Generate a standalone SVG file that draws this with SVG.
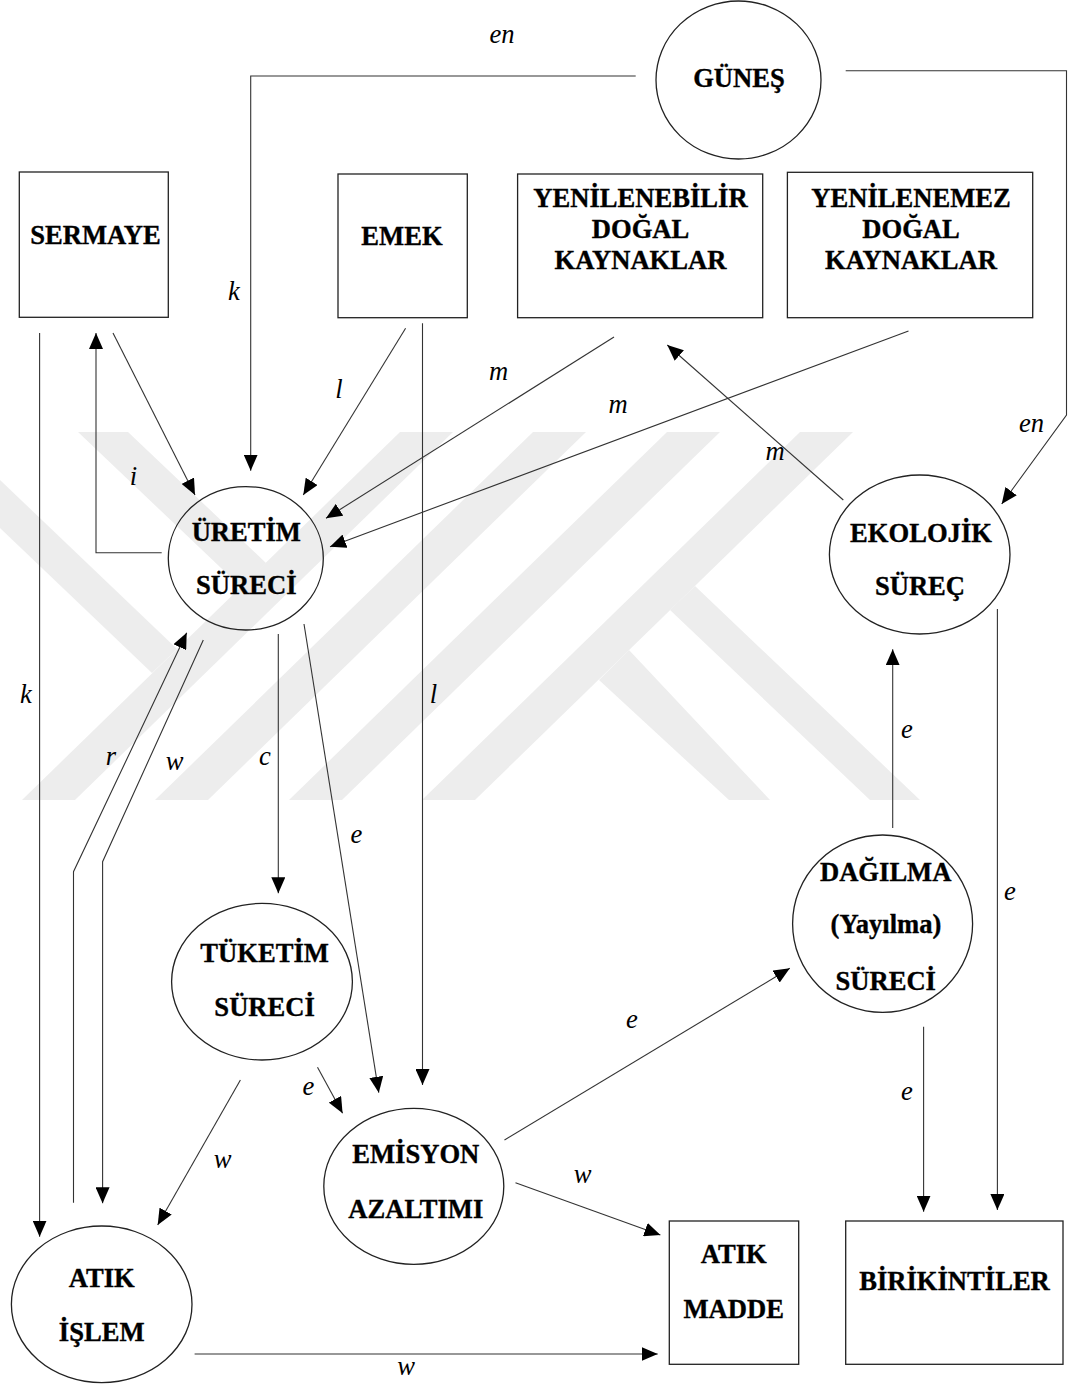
<svg xmlns="http://www.w3.org/2000/svg" width="1068" height="1385" viewBox="0 0 1068 1385">
<defs>
<style>
.bg{fill:#ffffff}
.wm{fill:#ededed}
.shape{fill:none;stroke:#222;stroke-width:1.3}
.ln{fill:none;stroke:#333;stroke-width:1.1}
.arr{marker-end:url(#ah)}
.nt{font-weight:bold;font-size:26.6px;text-anchor:middle;fill:#000;stroke:#000;stroke-width:0.35}
.lb{font-style:italic;font-size:26.6px;text-anchor:middle;fill:#000}
</style>
<marker id="ah" viewBox="0 0 16 14" refX="16" refY="7" markerWidth="16" markerHeight="14" markerUnits="userSpaceOnUse" orient="auto">
<path d="M0,0 L16,7 L0,14 Z" fill="#000"/>
</marker>
</defs>
<rect class="bg" x="0" y="0" width="1068" height="1385"/>
<g id="watermark">
<polygon class="wm" points="400,432 453,432 75,800 22,800"/>
<polygon class="wm" points="533,432 586,432 208,800 155,800"/>
<polygon class="wm" points="667,432 720,432 342,800 289,800"/>
<polygon class="wm" points="800,432 853,432 475,800 422,800"/>
<polygon class="wm" points="78,432 128,432 266,563 241,587"/>
<polygon class="wm" points="0,480 177,649 152,673 0,528"/>
<polygon class="wm" points="695,586 920,800 870,800 670,610"/>
<polygon class="wm" points="629,650 770,800 729,800 599,680"/>
</g>
<g id="connectors">
<polyline class="ln arr" points="635.7,76 250.7,76 250.7,470.7"/>
<polyline class="ln arr" points="845.7,70.7 1066.5,70.7 1066.5,415 1001.7,504"/>
<line class="ln arr" x1="113" y1="333" x2="195" y2="495"/>
<line class="ln arr" x1="405.6" y1="328.3" x2="303.3" y2="495"/>
<line class="ln arr" x1="614" y1="337" x2="326" y2="518.3"/>
<line class="ln arr" x1="908.5" y1="331" x2="330" y2="546.7"/>
<polyline class="ln arr" points="161.7,552.7 96,552.7 96,333"/>
<line class="ln arr" x1="39.6" y1="333" x2="39.6" y2="1236.7"/>
<line class="ln arr" x1="422.5" y1="323.3" x2="422.5" y2="1085"/>
<polyline class="ln arr" points="73.5,1202.7 73.5,871.7 186.7,632.7"/>
<polyline class="ln arr" points="203.3,640 102.6,861.7 102.6,1203.3"/>
<line class="ln arr" x1="278.3" y1="634" x2="278.3" y2="893.3"/>
<line class="ln arr" x1="304" y1="624" x2="378.8" y2="1092.7"/>
<line class="ln arr" x1="843.3" y1="500" x2="667.3" y2="345"/>
<line class="ln arr" x1="892.7" y1="828" x2="892.7" y2="649.3"/>
<line class="ln arr" x1="997.4" y1="609" x2="997.4" y2="1210"/>
<line class="ln arr" x1="923.6" y1="1026.7" x2="923.6" y2="1211.7"/>
<line class="ln arr" x1="317.5" y1="1067.3" x2="342.6" y2="1113.3"/>
<line class="ln arr" x1="240.4" y1="1080" x2="157.7" y2="1225"/>
<line class="ln arr" x1="504.5" y1="1140" x2="789.8" y2="968.3"/>
<line class="ln arr" x1="515.5" y1="1182.7" x2="660.4" y2="1235"/>
<line class="ln arr" x1="194.6" y1="1354" x2="657.7" y2="1354"/>
</g>
<g font-family="'Liberation Serif', Tinos, 'Times New Roman', Times, 'DejaVu Serif', serif">
<g id="edge-labels">
<text class="lb" x="502" y="43">en</text>
<text class="lb" x="234" y="300">k</text>
<text class="lb" x="339" y="398">l</text>
<text class="lb" x="498.5" y="380">m</text>
<text class="lb" x="618" y="413">m</text>
<text class="lb" x="775" y="460">m</text>
<text class="lb" x="1031.5" y="432">en</text>
<text class="lb" x="133.5" y="485">i</text>
<text class="lb" x="26" y="703">k</text>
<text class="lb" x="433.5" y="703">l</text>
<text class="lb" x="111" y="765">r</text>
<text class="lb" x="174.5" y="770">w</text>
<text class="lb" x="265" y="765">c</text>
<text class="lb" x="356.5" y="843">e</text>
<text class="lb" x="907" y="738">e</text>
<text class="lb" x="1010" y="900">e</text>
<text class="lb" x="632" y="1028">e</text>
<text class="lb" x="308.5" y="1095">e</text>
<text class="lb" x="222.5" y="1168">w</text>
<text class="lb" x="582.5" y="1183">w</text>
<text class="lb" x="907" y="1100">e</text>
<text class="lb" x="406" y="1375">w</text>
</g>
<g id="gunes">
<ellipse class="shape" cx="738.5" cy="80" rx="82.5" ry="79"/>
<text class="nt" x="739" y="87.3">GÜNEŞ</text>
</g>
<g id="sermaye">
<rect class="shape" x="19.3" y="172" width="149" height="145.3"/>
<text class="nt" x="95.5" y="244.3">SERMAYE</text>
</g>
<g id="emek">
<rect class="shape" x="338" y="174" width="129.3" height="143.7"/>
<text class="nt" x="402" y="245">EMEK</text>
</g>
<g id="yenilenebilir">
<rect class="shape" x="517.6" y="174" width="245.1" height="143.7"/>
<text class="nt" x="640.5" y="207.3">YENİLENEBİLİR</text>
<text class="nt" x="640.5" y="238.3">DOĞAL</text>
<text class="nt" x="640.5" y="269.3">KAYNAKLAR</text>
</g>
<g id="yenilenemez">
<rect class="shape" x="787.4" y="172.3" width="245.3" height="145.4"/>
<text class="nt" x="911" y="207.3">YENİLENEMEZ</text>
<text class="nt" x="911" y="238.3">DOĞAL</text>
<text class="nt" x="911" y="269.3">KAYNAKLAR</text>
</g>
<g id="uretim">
<ellipse class="shape" cx="245.8" cy="558.3" rx="77.5" ry="71.7"/>
<text class="nt" x="246.3" y="540.7">ÜRETİM</text>
<text class="nt" x="246.3" y="594.3">SÜRECİ</text>
</g>
<g id="ekolojik">
<ellipse class="shape" cx="919.7" cy="554.5" rx="90.3" ry="79.5"/>
<text class="nt" x="921" y="541.7">EKOLOJİK</text>
<text class="nt" x="920" y="595">SÜREÇ</text>
</g>
<g id="tuketim">
<ellipse class="shape" cx="262" cy="981.7" rx="90.4" ry="78.3"/>
<text class="nt" x="264.6" y="961.7">TÜKETİM</text>
<text class="nt" x="264.6" y="1016">SÜRECİ</text>
</g>
<g id="dagilma">
<ellipse class="shape" cx="882.6" cy="923.7" rx="90" ry="88.7"/>
<text class="nt" x="885.7" y="880.7">DAĞILMA</text>
<text class="nt" x="886" y="933.3">(Yayılma)</text>
<text class="nt" x="885.7" y="990">SÜRECİ</text>
</g>
<g id="emisyon">
<ellipse class="shape" cx="413.8" cy="1186.3" rx="90" ry="78"/>
<text class="nt" x="415.8" y="1163.3">EMİSYON</text>
<text class="nt" x="415.8" y="1217.7">AZALTIMI</text>
</g>
<g id="atik-islem">
<ellipse class="shape" cx="101.7" cy="1304.3" rx="90.3" ry="78.3"/>
<text class="nt" x="101.7" y="1286.7">ATIK</text>
<text class="nt" x="101.7" y="1340.7">İŞLEM</text>
</g>
<g id="atik-madde">
<rect class="shape" x="669.3" y="1221" width="129.4" height="143.3"/>
<text class="nt" x="733.7" y="1263.3">ATIK</text>
<text class="nt" x="733.7" y="1318.3">MADDE</text>
</g>
<g id="birikintiler">
<rect class="shape" x="845.7" y="1221" width="217.3" height="143.3"/>
<text class="nt" x="954.5" y="1290">BİRİKİNTİLER</text>
</g>
</g>
</svg>
